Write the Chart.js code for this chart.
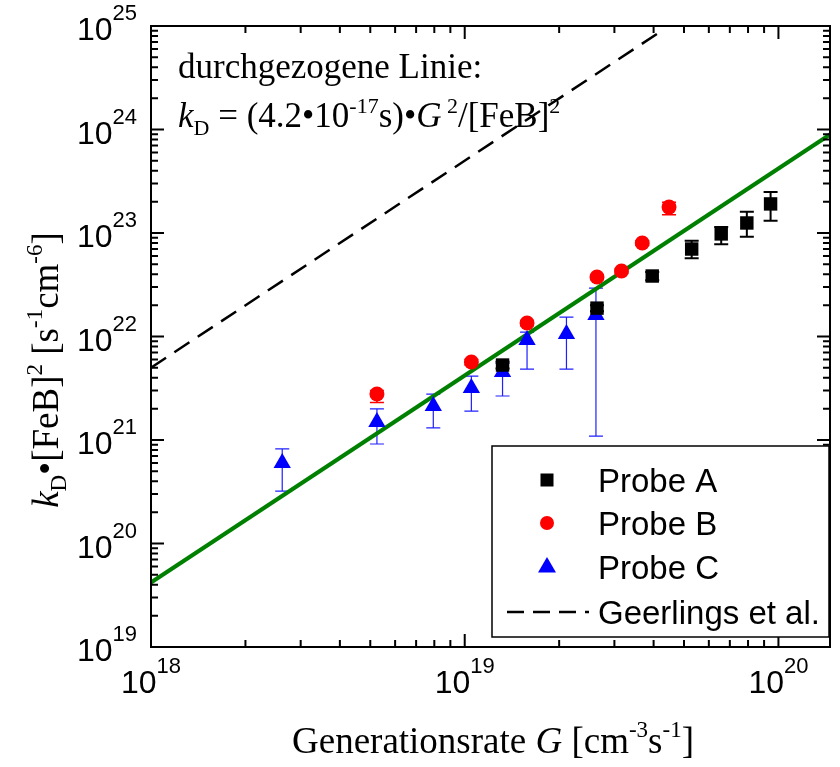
<!DOCTYPE html>
<html>
<head>
<meta charset="utf-8">
<script src="https://cdn.jsdelivr.net/npm/chart.js@4.4.1/dist/chart.umd.min.js"></script>
<style>
  body { margin: 0; background: #fff; }
  canvas { display: block; }
</style>
</head>
<body>
<canvas id="grafico" width="840" height="767"></canvas>
<script>
// Probe A (black squares)
const genA   = [1.32e19, 2.64e19, 3.96e19, 5.29e19, 6.57e19, 7.93e19, 9.44e19];
const kdA    = [5.3e21, 1.88e22, 3.84e22, 7.0e22, 9.8e22, 1.25e23, 1.91e23];
const kdA_lo = [4.9e21, 1.75e22, 3.5e22, 5.7e22, 7.8e22, 9.2e22, 1.31e23];
const kdA_hi = [5.7e21, 2.0e22, 4.2e22, 8.4e22, 1.14e23, 1.6e23, 2.49e23];

// Probe B (red circles)
const genB   = [5.25e18, 1.05e19, 1.58e19, 2.64e19, 3.16e19, 3.68e19, 4.48e19];
const kdB    = [2.78e21, 5.67e21, 1.35e22, 3.76e22, 4.3e22, 8.0e22, 1.78e23];
const kdB_lo = [2.3e21, 5.3e21, 1.27e22, 3.55e22, 4.1e22, 7.6e22, 1.5e23];
const kdB_hi = [3.0e21, 6.0e21, 1.43e22, 3.95e22, 4.5e22, 8.4e22, 1.98e23];

// Probe C (blue triangles)
const genC   = [2.62e18, 5.25e18, 7.94e18, 1.05e19, 1.32e19, 1.58e19, 2.11e19, 2.62e19];
const kdC    = [6.0e20, 1.49e21, 2.13e21, 3.18e21, 4.54e21, 9.25e21, 1.06e22, 1.61e22];
const kdC_lo = [3.2e20, 9.15e20, 1.31e21, 1.9e21, 2.66e21, 4.85e21, 4.85e21, 1.09e21];
const kdC_hi = [8.2e20, 2.0e21, 2.78e21, 4.15e21, 5.5e21, 1.1e22, 1.54e22, 2.94e22];

// solid fit line (end points) and Geerlings et al. (dashed)
const genFit  = [1e18, 1.46e20];
const kdFit   = [4.2e19, 8.95e23];
const genGeer = [1e18, 4.2e19];
const kdGeer  = [5.0e21, 8.8e24];

// axis ranges and decade labels
const xMin = 1e18, xMax = 1.46e20;
const yMin = 1e19, yMax = 1e25;
const xDecades = [18, 19, 20];
const yDecades = [19, 20, 21, 22, 23, 24, 25];

const SANS = '"Liberation Sans", Arial, sans-serif';
const SERIF = '"Liberation Serif", "Times New Roman", serif';

function pts(xs, ys) {
  return xs.map(function(x, i) { return {x: x, y: ys[i]}; });
}

function drawRich(ctx, parts, x, y, align) {
  let w = 0;
  parts.forEach(function(p) { ctx.font = p[1]; w += ctx.measureText(p[0]).width; });
  let cx = align === 'center' ? x - w / 2 : (align === 'right' ? x - w : x);
  ctx.textAlign = 'left';
  ctx.textBaseline = 'alphabetic';
  parts.forEach(function(p) {
    ctx.font = p[1];
    ctx.fillText(p[0], cx, y + (p[2] || 0));
    cx += ctx.measureText(p[0]).width;
  });
}

const errorBars = {
  id: 'errorBars',
  beforeDatasetsDraw: function(chart) {
    const ctx = chart.ctx, ys = chart.scales.y;
    ctx.save();
    chart.data.datasets.forEach(function(ds, i) {
      if (!ds.errLo) return;
      const meta = chart.getDatasetMeta(i);
      ctx.strokeStyle = ds.errColor;
      ctx.lineWidth = ds.errWidth;
      meta.data.forEach(function(pt, j) {
        const yl = ys.getPixelForValue(ds.errLo[j]);
        const yh = ys.getPixelForValue(ds.errHi[j]);
        const x = pt.x, c = 7;
        ctx.beginPath();
        ctx.moveTo(x, yl); ctx.lineTo(x, yh);
        ctx.moveTo(x - c, yl); ctx.lineTo(x + c, yl);
        ctx.moveTo(x - c, yh); ctx.lineTo(x + c, yh);
        ctx.stroke();
      });
    });
    ctx.restore();
  }
};

const frame = {
  id: 'frame',
  afterDraw: function(chart) {
    const ctx = chart.ctx, a = chart.chartArea;
    const xs = chart.scales.x, ys = chart.scales.y;
    ctx.save();
    ctx.strokeStyle = '#000';
    ctx.fillStyle = '#000';
    ctx.lineWidth = 2;
    ctx.strokeRect(a.left, a.top, a.right - a.left, a.bottom - a.top);

    // ticks, pointing inward on all four sides
    ctx.beginPath();
    for (let e = 17; e <= 20; e++) {
      for (let k = 1; k <= 9; k++) {
        const v = k * Number('1e' + e);
        if (v < xMin * 0.999 || v > xMax) continue;
        const px = xs.getPixelForValue(v), len = k === 1 ? 13 : 7;
        ctx.moveTo(px, a.bottom); ctx.lineTo(px, a.bottom - len);
        ctx.moveTo(px, a.top); ctx.lineTo(px, a.top + len);
      }
    }
    for (let e = 19; e <= 25; e++) {
      for (let k = 1; k <= 9; k++) {
        const v = k * Number('1e' + e);
        if (v < yMin * 0.999 || v > yMax * 1.001) continue;
        const py = ys.getPixelForValue(v), len = k === 1 ? 13 : 7;
        ctx.moveTo(a.left, py); ctx.lineTo(a.left + len, py);
        ctx.moveTo(a.right, py); ctx.lineTo(a.right - len, py);
      }
    }
    ctx.stroke();

    // tick labels
    xDecades.forEach(function(e) {
      const px = xs.getPixelForValue(Number('1e' + e));
      drawRich(ctx, [['10', '32px ' + SANS], [String(e), '22px ' + SANS, -20]], px, 693, 'center');
    });
    yDecades.forEach(function(e) {
      const py = ys.getPixelForValue(Number('1e' + e));
      drawRich(ctx, [['10', '32px ' + SANS], [String(e), '22px ' + SANS, -20]], 137, py + 14, 'right');
    });

    // axis titles
    drawRich(ctx, [
      ['Generationsrate ', '37px ' + SERIF], ['G', 'italic 37px ' + SERIF],
      [' [cm', '37px ' + SERIF], ['-3', '23px ' + SERIF, -16],
      ['s', '37px ' + SERIF], ['-1', '23px ' + SERIF, -16], [']', '37px ' + SERIF]
    ], 493, 753, 'center');

    ctx.save();
    ctx.translate(58, 370);
    ctx.rotate(-Math.PI / 2);
    drawRich(ctx, [
      ['k', 'italic 37px ' + SERIF], ['D', '23px ' + SERIF, 8],
      ['\u2022[FeB]', '37px ' + SERIF], ['2', '23px ' + SERIF, -16],
      [' [s', '37px ' + SERIF], ['-1', '23px ' + SERIF, -16],
      ['cm', '37px ' + SERIF], ['-6', '23px ' + SERIF, -16], [']', '37px ' + SERIF]
    ], 0, 0, 'center');
    ctx.restore();

    // annotation
    drawRich(ctx, [['durchgezogene Linie:', '35px ' + SERIF]], 178, 78, 'left');
    drawRich(ctx, [
      ['k', 'italic 35px ' + SERIF], ['D', '22px ' + SERIF, 8],
      [' = (4.2\u202210', '35px ' + SERIF], ['-17', '22px ' + SERIF, -14],
      ['s)\u2022', '35px ' + SERIF], ['G', 'italic 35px ' + SERIF],
      [' 2', '22px ' + SERIF, -14], ['/[FeB]', '35px ' + SERIF], ['2', '22px ' + SERIF, -14]
    ], 178, 127, 'left');

    // legend
    ctx.fillStyle = '#fff';
    ctx.fillRect(492, 446, 337, 191);
    ctx.lineWidth = 1.5;
    ctx.strokeStyle = '#000';
    ctx.strokeRect(492, 446, 337, 191);
    const mx = 547;
    ctx.fillStyle = '#000';
    ctx.fillRect(mx - 6.5, 480 - 6.5, 13, 13);
    ctx.fillStyle = '#ff0000';
    ctx.beginPath(); ctx.arc(mx, 523, 7, 0, Math.PI * 2); ctx.fill();
    ctx.fillStyle = '#0000ff';
    ctx.beginPath();
    ctx.moveTo(mx, 557); ctx.lineTo(mx + 9, 572.5); ctx.lineTo(mx - 9, 572.5);
    ctx.closePath(); ctx.fill();
    ctx.strokeStyle = '#000';
    ctx.lineWidth = 2.5;
    ctx.setLineDash([17, 9]);
    ctx.beginPath(); ctx.moveTo(507, 612); ctx.lineTo(589, 612); ctx.stroke();
    ctx.setLineDash([]);
    ctx.fillStyle = '#000';
    const names = ['Probe A', 'Probe B', 'Probe C', 'Geerlings et al.'];
    const rows = [480, 523, 567, 612];
    names.forEach(function(n, i) {
      drawRich(ctx, [[n, '33px ' + SANS]], 598, rows[i] + 12, 'left');
    });
    ctx.restore();
  }
};

const ctx = document.getElementById('grafico').getContext('2d');
const chart = new Chart(ctx, {
  type: 'scatter',
  data: {
    datasets: [
      {
        label: 'Probe A', data: pts(genA, kdA),
        pointStyle: 'rect', pointRadius: 9.5, pointBorderWidth: 0,
        backgroundColor: '#000', borderColor: '#000',
        errLo: kdA_lo, errHi: kdA_hi, errColor: '#000', errWidth: 2
      },
      {
        label: 'Probe B', data: pts(genB, kdB),
        pointStyle: 'circle', pointRadius: 7.5, pointBorderWidth: 0,
        backgroundColor: '#ff0000', borderColor: '#ff0000',
        errLo: kdB_lo, errHi: kdB_hi, errColor: '#ff0000', errWidth: 1.5
      },
      {
        label: 'Probe C', data: pts(genC, kdC),
        pointStyle: 'triangle', pointRadius: 10, pointBorderWidth: 0,
        backgroundColor: '#0000ff', borderColor: '#0000ff',
        errLo: kdC_lo, errHi: kdC_hi, errColor: '#2020ff', errWidth: 1.2
      },
      {
        label: 'Geerlings et al.', data: pts(genGeer, kdGeer),
        showLine: true, pointRadius: 0, borderColor: '#000', borderWidth: 2.5,
        borderDash: [18, 10]
      },
      {
        label: 'Fit', data: pts(genFit, kdFit),
        showLine: true, pointRadius: 0, borderColor: 'rgb(0,128,0)', borderWidth: 4
      }
    ]
  },
  options: {
    responsive: false,
    animation: false,
    devicePixelRatio: 1,
    layout: { padding: { left: 151, top: 26, right: 1, bottom: 120 } },
    plugins: { legend: { display: false }, tooltip: { enabled: false } },
    scales: {
      x: { type: 'logarithmic', min: xMin, max: xMax, display: false },
      y: { type: 'logarithmic', min: yMin, max: yMax, display: false }
    }
  },
  plugins: [errorBars, frame]
});
</script>
</body>
</html>
